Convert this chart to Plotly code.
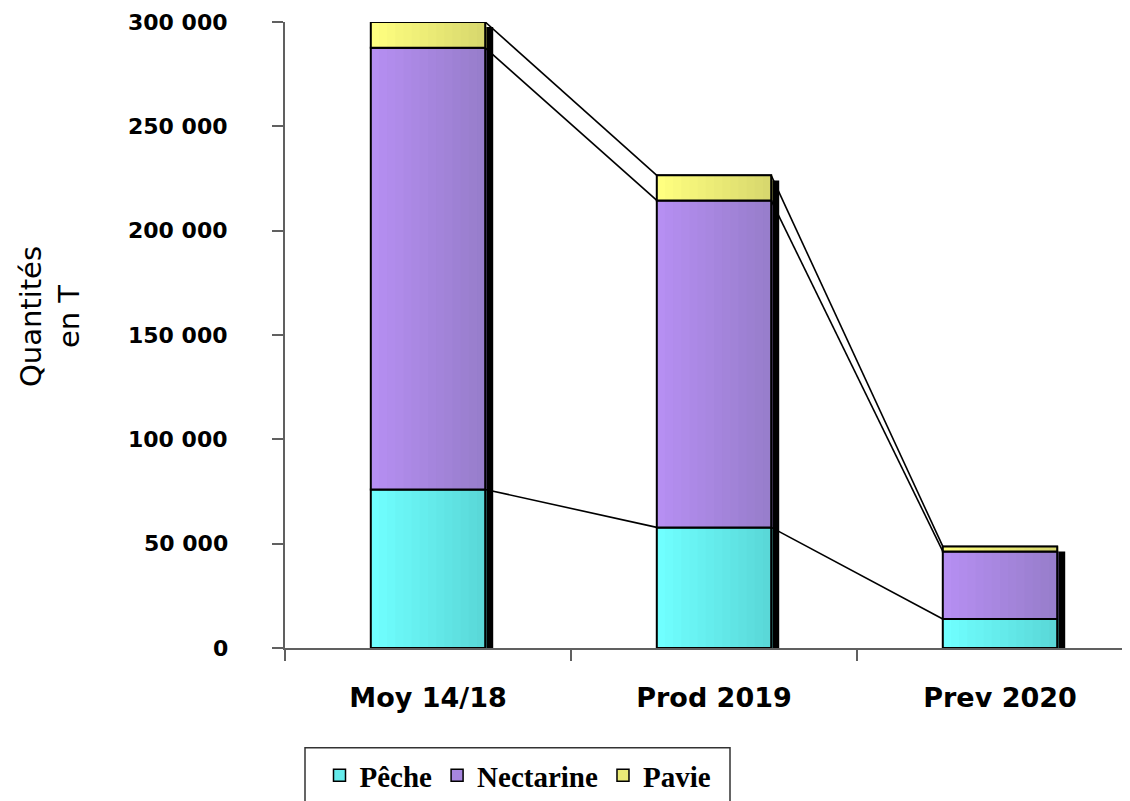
import plotly.graph_objects as go
import numpy as np

categories = ["Moy 14/18", "Prod 2019", "Prev 2020"]
series_names = ["Pêche", "Nectarine", "Pavie"]
peche = [76000, 57800, 13900]
nectarine = [211600, 156700, 32400]
pavie = [12400, 12000, 2400]
y_tick_vals = [0, 50000, 100000, 150000, 200000, 250000, 300000]
y_tick_text = ["0", "50 000", "100 000", "150 000", "200 000", "250 000", "300 000"]

# styles
grad_left = {"Pêche": (112, 255, 255), "Nectarine": (182, 143, 242), "Pavie": (255, 255, 128)}
grad_right = {"Pêche": (90, 216, 216), "Nectarine": (152, 126, 204), "Pavie": (216, 216, 110)}
BAR_W = 0.4
SHADOW_DX = 0.028
SHADOW_DROP = 2400
N_STRIPS = 14
PW, PH = 845, 628  # plot area size in px
X0, Y0 = 285, 650  # plot area left / bottom in page px


def px(xp):
    return (xp - X0) / PW


def py(yp):
    return (Y0 - yp) / PH


x = np.arange(len(categories))
series = [peche, nectarine, pavie]
bases = []
acc = np.zeros(len(categories))
for s in series:
    bases.append(acc.copy())
    acc = acc + np.array(s)
totals = acc

fig = go.Figure()

# series lines (connecting segment tops)
for lvl_idx in range(3):
    level = bases[lvl_idx] + np.array(series[lvl_idx])
    xs, ys = [], []
    for i in range(len(categories) - 1):
        xs += [x[i] + BAR_W / 2, x[i + 1] - BAR_W / 2, None]
        ys += [level[i], level[i + 1], None]
    fig.add_trace(go.Scatter(x=xs, y=ys, mode="lines", line=dict(color="black", width=1.6),
                             showlegend=False, hoverinfo="skip"))

# shadow
fig.add_trace(go.Bar(x=x, y=totals - SHADOW_DROP, base=0, width=BAR_W, offset=-BAR_W / 2 + SHADOW_DX,
                     marker=dict(color="black", line=dict(width=0)), showlegend=False, hoverinfo="skip"))

for k, name in enumerate(series_names):
    l = np.array(grad_left[name]); r = np.array(grad_right[name])
    mid = (l + r) / 2
    fig.add_trace(go.Bar(x=x, y=series[k], base=bases[k], width=BAR_W, offset=-BAR_W / 2, name=name,
                         marker=dict(color="rgb(%d,%d,%d)" % tuple(mid), line=dict(color="black", width=1.5)),
                         legendrank=k + 1))
    sw = BAR_W / N_STRIPS
    for j in range(N_STRIPS):
        t = j / (N_STRIPS - 1)
        c = l * (1 - t) + r * t
        fig.add_trace(go.Bar(x=x, y=series[k], base=bases[k], width=sw * 1.15,
                             offset=-BAR_W / 2 + j * sw,
                             marker=dict(color="rgb(%d,%d,%d)" % tuple(c), line=dict(width=0)),
                             showlegend=False, hoverinfo="skip"))
    fig.add_trace(go.Bar(x=x, y=series[k], base=bases[k], width=BAR_W, offset=-BAR_W / 2,
                         marker=dict(color="rgba(0,0,0,0)", line=dict(color="black", width=2)),
                         showlegend=False, hoverinfo="skip"))

annotations = [dict(text="Quantités<br>en T", xref="paper", yref="paper", x=px(12),
                    y=py(318), showarrow=False, textangle=-90,
                    font=dict(family="DejaVu Sans", size=29, color="black"))]
for v, t in zip(y_tick_vals, y_tick_text):
    annotations.append(dict(text=t, xref="paper", yref="y", x=px(230), y=v, xanchor="right",
                            yanchor="middle", showarrow=False,
                            font=dict(family="DejaVu Sans", size=22, color="black", weight="bold")))

fig.update_layout(
    width=1122, height=793,
    margin=dict(l=277, r=0, t=14, b=151),
    barmode="overlay",
    plot_bgcolor="white", paper_bgcolor="white",
    xaxis=dict(range=[-0.5, -0.5 + PW / 286], tickvals=list(x), ticktext=categories, ticks="",
               showgrid=False, zeroline=False, showline=True, linecolor="#606060", linewidth=1.5,
               tickfont=dict(family="DejaVu Sans", size=27, color="black", weight="bold"),
               ticklabelstandoff=25,
               minor=dict(tick0=0.5, dtick=1, ticks="outside", ticklen=11, tickcolor="#606060",
                          tickwidth=1.5, showgrid=False)),
    yaxis=dict(range=[0, 300000], tickvals=y_tick_vals, showticklabels=False,
               ticks="outside", ticklen=11, tickcolor="#606060", tickwidth=1.5,
               showgrid=False, zeroline=False, showline=True, linecolor="#606060", linewidth=1.5),
    yaxis2=dict(range=[0, 300000], overlaying="y", anchor="x", side="left", tickvals=y_tick_vals,
                ticks="inside", ticklen=11, tickcolor="#606060", tickwidth=1.5, showticklabels=False,
                showgrid=False, zeroline=False, showline=False),
    legend=dict(orientation="h", x=px(518), xanchor="center", y=py(778),
                yanchor="middle", bgcolor="rgba(0,0,0,0)",
                font=dict(family="Liberation Serif", size=29, color="black", weight="bold")),
    shapes=[dict(type="rect", xref="paper", yref="paper", x0=px(305), x1=px(730),
                 y0=py(750), y1=py(815), line=dict(color="#333333", width=1.5),
                 fillcolor="rgba(0,0,0,0)")],
    annotations=annotations,
    showlegend=True,
)

fig.write_html("out.html")
